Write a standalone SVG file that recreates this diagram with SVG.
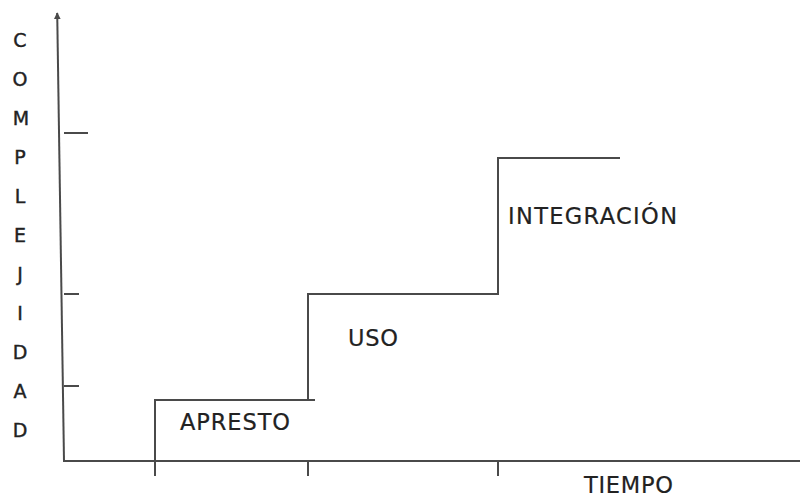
<svg xmlns="http://www.w3.org/2000/svg" width="800" height="497" viewBox="0 0 800 497">
<style>
.ln{stroke:#4a4a4a;stroke-width:2;fill:none;stroke-linecap:square}
.ax{font-family:"DejaVu Sans",Verdana,sans-serif;font-size:19px;fill:#222;stroke:#222;stroke-width:0.4;text-anchor:middle}
.lb{font-family:"DejaVu Sans",Verdana,sans-serif;font-size:22.5px;fill:#222;stroke:#222;stroke-width:0.2}
</style>
<defs>
<marker id="arr" viewBox="0 0 10 10" refX="9" refY="5" markerWidth="7" markerHeight="7" orient="auto" markerUnits="userSpaceOnUse">
<path d="M0,0 L10,5 L0,10 z" fill="#4a4a4a"/>
</marker>
</defs>
<rect width="800" height="497" fill="#fff"/>
<g id="axes">
<line class="ln" x1="64" y1="461" x2="57.2" y2="13" marker-end="url(#arr)" style="stroke-linecap:butt"/>
<line class="ln" x1="64" y1="461" x2="800" y2="461"/>
<line class="ln" x1="65" y1="133" x2="87" y2="133"/>
<line class="ln" x1="65" y1="294" x2="78" y2="294"/>
<line class="ln" x1="65" y1="386" x2="78" y2="386"/>
<line class="ln" x1="155" y1="461" x2="155" y2="475"/>
<line class="ln" x1="308" y1="461" x2="308" y2="475"/>
<line class="ln" x1="498" y1="461" x2="498" y2="475"/>
</g>
<g id="steps">
<polyline class="ln" points="155,461 155,400 314,400"/>
<polyline class="ln" points="308,400 308,294 498,294 498,158 619,158"/>
</g>
<g id="y-label">
<text class="ax" x="20" y="46.5">C</text>
<text class="ax" x="20" y="85.6">O</text>
<text class="ax" x="21" y="124.6">M</text>
<text class="ax" x="20" y="163.7">P</text>
<text class="ax" x="20" y="202.7">L</text>
<text class="ax" x="20" y="241.8">E</text>
<text class="ax" x="20" y="280.8">J</text>
<text class="ax" x="20" y="319.9">I</text>
<text class="ax" x="20" y="358.9">D</text>
<text class="ax" x="20" y="398">A</text>
<text class="ax" x="20" y="437">D</text>
</g>
<g id="apresto"><text class="lb" x="180" y="430" textLength="110">APRESTO</text></g>
<g id="uso"><text class="lb" x="348" y="346" textLength="50">USO</text></g>
<g id="integracion"><text class="lb" x="508" y="224" textLength="169">INTEGRACIÓN</text></g>
<g id="tiempo"><text class="lb" x="584" y="493" textLength="89">TIEMPO</text></g>
</svg>
